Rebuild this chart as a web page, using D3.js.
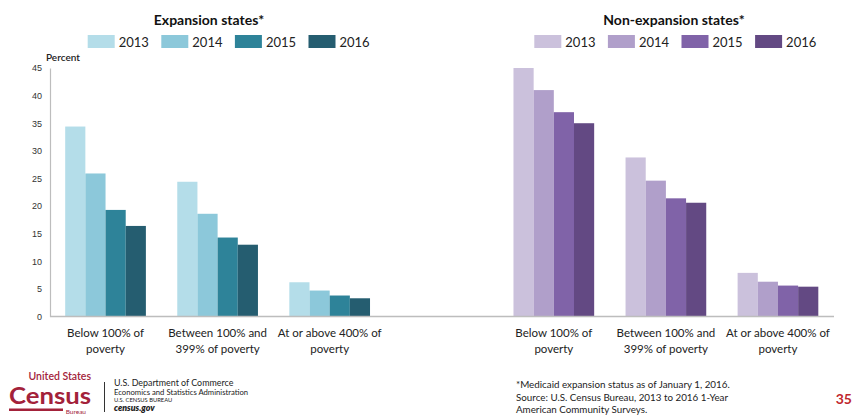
<!DOCTYPE html>
<html>
<head>
<meta charset="utf-8">
<script src="https://cdn.jsdelivr.net/npm/d3@7"></script>
<style>
  body { margin: 0; background: #fff; }
  svg { font-family: Lato, "Open Sans", sans-serif; }
</style>
</head>
<body>
<div id="viz"></div>
<script>
// data
const categories = ["Below 100% of|poverty", "Between 100% and|399% of poverty", "At or above 400% of|poverty"];
const years = ["2013", "2014", "2015", "2016"];
const expansion = [
  [34.4, 25.9, 19.3, 16.4],
  [24.4, 18.6, 14.3, 13.0],
  [6.2, 4.7, 3.8, 3.3]
];
const nonExpansion = [
  [45.0, 41.0, 37.0, 35.0],
  [28.8, 24.6, 21.4, 20.6],
  [7.9, 6.3, 5.6, 5.4]
];
const yTicks = [0, 5, 10, 15, 20, 25, 30, 35, 40, 45];

const expColors = ["#b4dde9", "#8cc8da", "#2e8399", "#255d70"];
const nonColors = ["#cbc1dc", "#b09fca", "#8063a8", "#634983"];

const width = 855, height = 418;

const svg = d3.select("#viz")
    .append("svg")
    .attr("width", width)
    .attr("height", height);

// slots: 3 expansion groups, one empty, 3 non-expansion groups
const slots = ["e0", "e1", "e2", "gap", "n0", "n1", "n2"];
const x = d3.scaleBand()
    .domain(slots)
    .range([49.5, 834])
    .paddingInner(0.28)
    .paddingOuter(0.14);

const x1 = d3.scaleBand()
    .domain(years)
    .range([0, x.bandwidth()]);

const y = d3.scaleLinear()
    .domain([0, 45])
    .range([316.5, 68]);

// y axis
const yAxis = svg.append("g")
    .attr("transform", "translate(50,0)")
    .call(d3.axisLeft(y).tickValues(yTicks).tickSize(0).tickPadding(8));
yAxis.select(".domain").attr("stroke", "#bdbdbd").attr("stroke-width", 1.2);
yAxis.selectAll("text").attr("font-size", 9).attr("fill", "#333");

svg.append("text")
    .attr("x", 46).attr("y", 61)
    .attr("font-size", 10).attr("font-weight", 600).attr("fill", "#222")
    .text("Percent");

// bars
function drawGroups(data, prefix, colors) {
  data.forEach((vals, i) => {
    const g = svg.append("g")
        .attr("transform", `translate(${x(prefix + i)},0)`);
    g.selectAll("rect")
      .data(vals)
      .enter().append("rect")
        .attr("x", (d, j) => x1(years[j]))
        .attr("width", x1.bandwidth())
        .attr("y", d => y(d))
        .attr("height", d => y(0) - y(d))
        .attr("fill", (d, j) => colors[j]);
  });
}
drawGroups(expansion, "e", expColors);
drawGroups(nonExpansion, "n", nonColors);

// baseline
svg.append("line")
    .attr("x1", 50).attr("x2", 834)
    .attr("y1", y(0)).attr("y2", y(0))
    .attr("stroke", "#bdbdbd").attr("stroke-width", 1.5);

// category labels
["e", "n"].forEach(p => {
  categories.forEach((c, i) => {
    const t = svg.append("text")
        .attr("text-anchor", "middle")
        .attr("font-size", 11.5)
        .attr("fill", "#222")
        .attr("transform", `translate(${x(p + i) + x.bandwidth() / 2},337)`);
    c.split("|").forEach((line, k) => {
      t.append("tspan").attr("x", 0).attr("y", k * 15.5).text(line);
    });
  });
});

// titles
svg.append("text")
    .attr("x", 209).attr("y", 25)
    .attr("text-anchor", "middle")
    .attr("font-size", 14).attr("font-weight", "bold").attr("fill", "#111")
    .text("Expansion states*");
svg.append("text")
    .attr("x", 674).attr("y", 25)
    .attr("text-anchor", "middle")
    .attr("font-size", 14).attr("font-weight", "bold").attr("fill", "#111")
    .text("Non-expansion states*");

// legends
function legend(x0, colors) {
  const lg = svg.append("g").attr("transform", `translate(${x0},35)`);
  const items = lg.selectAll("g")
    .data(years)
    .enter().append("g")
      .attr("transform", (d, i) => `translate(${i * 73.6},0)`);
  items.append("rect")
      .attr("width", 27).attr("height", 13)
      .attr("fill", (d, i) => colors[i]);
  items.append("text")
      .attr("x", 31).attr("y", 11.5)
      .attr("font-size", 13).attr("fill", "#222")
      .text(d => d);
}
legend(87.7, expColors);
legend(534.3, nonColors);

// footer: census logo
const red = "#a3223a";
svg.append("text").attr("x", 91).attr("y", 379.5)
    .attr("text-anchor", "end").attr("font-size", 10.5).attr("font-weight", 600)
    .attr("fill", red).text("United States");
svg.append("text").attr("x", 9).attr("y", 404)
    .attr("font-size", 23).attr("font-weight", "bold")
    .attr("textLength", 82).attr("lengthAdjust", "spacingAndGlyphs")
    .attr("fill", red).text("Census");
svg.append("rect").attr("x", 9).attr("y", 408.5).attr("width", 54).attr("height", 2.5).attr("fill", red);
svg.append("text").attr("x", 86).attr("y", 413.5)
    .attr("text-anchor", "end").attr("font-size", 6.5).attr("fill", red).text("Bureau");
svg.append("line").attr("x1", 104.5).attr("x2", 104.5).attr("y1", 382).attr("y2", 412)
    .attr("stroke", "#333").attr("stroke-width", 1);

const dept = [
  {t: "U.S. Department of Commerce", s: 8.9, y: 386, w: 400, st: "normal"},
  {t: "Economics and Statistics Administration", s: 7.7, y: 394.5, w: 400, st: "normal"},
  {t: "U.S. CENSUS BUREAU", s: 5.8, y: 401.5, w: 400, st: "normal"},
  {t: "census.gov", s: 8.8, y: 410.5, w: 800, st: "italic"}
];
dept.forEach(d => {
  svg.append("text").attr("x", 114).attr("y", d.y)
      .attr("font-size", d.s).attr("font-weight", d.w).attr("font-style", d.st)
      .attr("fill", "#222").text(d.t);
});

// footnote
const notes = ["*Medicaid expansion status as of January 1, 2016.",
               "Source: U.S. Census Bureau, 2013 to 2016 1-Year",
               "American Community Surveys."];
notes.forEach((n, i) => {
  svg.append("text").attr("x", 516).attr("y", 388 + i * 12.5)
      .attr("font-size", 9.8).attr("fill", "#222").text(n);
});

svg.append("text").attr("x", 852).attr("y", 404)
    .attr("text-anchor", "end").attr("font-size", 14).attr("font-weight", "bold")
    .attr("fill", "#c0272d").text("35");
</script>
</body>
</html>
